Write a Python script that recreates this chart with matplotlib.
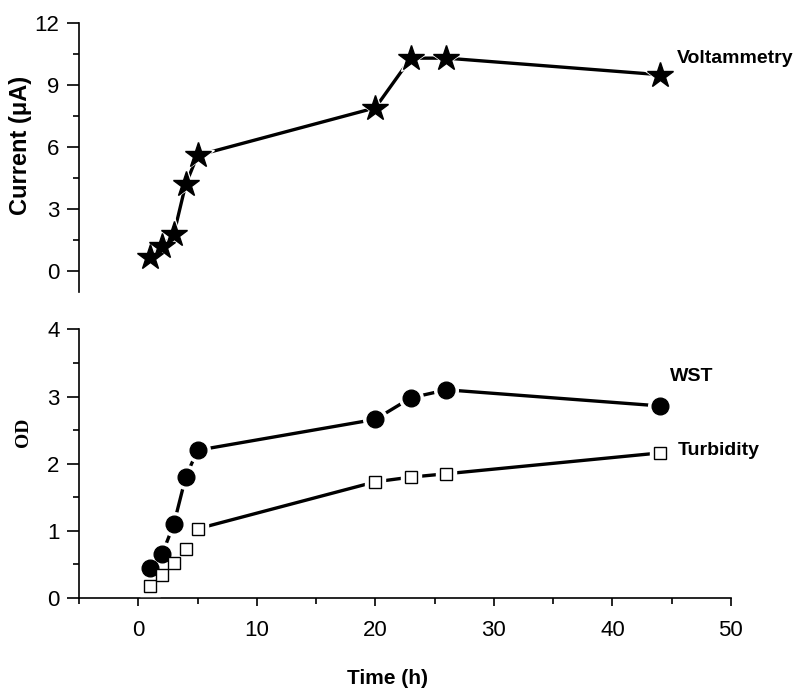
import numpy as np
import matplotlib
matplotlib.use("Agg")
import matplotlib.pyplot as plt
from matplotlib.ticker import MultipleLocator

# data
time_h = [1, 2, 3, 4, 5, 20, 23, 26, 44]
current = [0.7, 1.2, 1.8, 4.2, 5.6, 7.9, 10.3, 10.3, 9.5]
wst = [0.45, 0.65, 1.1, 1.8, 2.2, 2.66, 2.98, 3.1, 2.86]
turbidity = [0.18, 0.34, 0.52, 0.73, 1.03, 1.73, 1.8, 1.85, 2.16]

plt.rcParams['font.family'] = ['Liberation Sans', 'DejaVu Sans']

fig = plt.figure(figsize=(7.95, 6.96), dpi=100)
ax1 = fig.add_axes([0.0994, 0.5805, 0.82, 0.3865])
ax2 = fig.add_axes([0.0994, 0.1408, 0.82, 0.386])


def serie(ax, x, y, marker, ms, mfc):
    ax.plot(x, y, color='black', lw=2.4, zorder=2)
    # white halo so the line stops short of each marker
    ax.plot(x, y, ls='none', marker=marker, ms=ms + 5, mfc='white',
            mec='white', zorder=3)
    ax.plot(x, y, ls='none', marker=marker, ms=ms, mfc=mfc,
            mec='black', mew=1.0, zorder=4)


serie(ax1, time_h, current, '*', 19, 'black')
serie(ax2, time_h, wst, 'o', 12, 'black')
serie(ax2, time_h, turbidity, 's', 9, 'white')

for ax in (ax1, ax2):
    ax.set_xlim(-5, 50)
    ax.spines['top'].set_visible(False)
    ax.spines['right'].set_visible(False)
    ax.spines['left'].set_linewidth(1.2)
    ax.spines['bottom'].set_linewidth(1.2)
    ax.tick_params(axis='y', which='major', length=9, width=1.2, labelsize=16, pad=5)
    ax.tick_params(axis='y', which='minor', length=4, width=1.2)
    ax.tick_params(axis='x', which='major', length=6, width=1.2, labelsize=16, pad=10)
    ax.tick_params(axis='x', which='minor', length=4, width=1.2)

ax1.set_ylim(-1, 12)
ax1.yaxis.set_major_locator(MultipleLocator(3))
ax1.yaxis.set_minor_locator(MultipleLocator(1.5))
ax1.spines['bottom'].set_visible(False)
ax1.set_xticks([])
ax1.set_ylabel('Current (\u03bcA)', fontsize=17, fontweight='bold')
ax1.yaxis.set_label_coords(-0.072, 0.543)

ax2.set_ylim(0, 4)
ax2.yaxis.set_major_locator(MultipleLocator(1))
ax2.yaxis.set_minor_locator(MultipleLocator(0.5))
ax2.xaxis.set_major_locator(MultipleLocator(10))
ax2.xaxis.set_minor_locator(MultipleLocator(5))
ax2.set_ylabel('OD', fontsize=14, fontweight='bold', family='Liberation Serif')
ax2.yaxis.set_label_coords(-0.072, 0.618)
ax2.set_xlabel('Time (h)', fontsize=15, fontweight='bold')
ax2.xaxis.set_label_coords(0.473, -0.265)

ax1.text(45.4, 10.3, 'Voltammetry', fontsize=14, fontweight='bold', va='center', ha='left')
ax2.text(44.9, 3.3, 'WST', fontsize=14, fontweight='bold', va='center', ha='left')
ax2.text(45.5, 2.19, 'Turbidity', fontsize=14, fontweight='bold', va='center', ha='left')

fig.savefig('out.png', dpi=100)
